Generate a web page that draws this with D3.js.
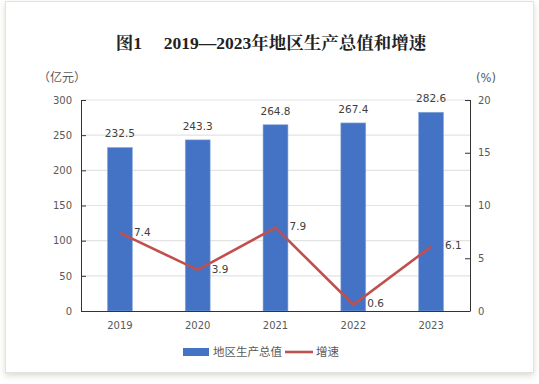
<!DOCTYPE html>
<html>
<head>
<meta charset="utf-8">
<script src="https://cdn.jsdelivr.net/npm/d3@7"></script>
<style>
  body { margin: 0; background: #fff; }
  svg { display: block; }
</style>
</head>
<body>
<div id="chart"></div>
<script>
// data
const years = ['2019', '2020', '2021', '2022', '2023'];
const gdp = [232.5, 243.3, 264.8, 267.4, 282.6];
const growth = [7.4, 3.9, 7.9, 0.6, 6.1];
const leftTicks = [0, 50, 100, 150, 200, 250, 300];
const rightTicks = [0, 5, 10, 15, 20];

const W = 539, H = 384;
const plot = {left: 81, right: 470, top: 100, bottom: 311};
const font = "'DejaVu Sans', 'Noto Sans CJK SC', sans-serif";
const cjk = "'Noto Sans CJK SC', sans-serif";
const grey = '#595959';

let svg = d3.select('#chart').append('svg')
  .attr('width', W)
  .attr('height', H);

// card + shadow
let defs = svg.append('defs');
let flt = defs.append('filter').attr('id', 'sh')
  .attr('x', '-5%').attr('y', '-5%').attr('width', '110%').attr('height', '115%');
flt.append('feDropShadow')
  .attr('dx', 0).attr('dy', 3).attr('stdDeviation', 3)
  .attr('flood-color', '#c8c4b0').attr('flood-opacity', 0.6);
svg.append('rect')
  .attr('x', 5.5).attr('y', 1.5).attr('width', 528).attr('height', 371)
  .attr('fill', '#fff').attr('stroke', '#e2e2e2')
  .attr('filter', 'url(#sh)');

// title
svg.append('text')
  .attr('x', 271).attr('y', 49)
  .attr('text-anchor', 'middle')
  .style('font-family', "'Liberation Serif', 'Noto Serif CJK SC', 'Noto Sans CJK SC', serif")
  .style('font-weight', 'bold')
  .style('font-size', '17.5px')
  .attr('fill', '#222')
  .text('图1\u3000 2019—2023年地区生产总值和增速');

// scales
let x = d3.scaleBand()
  .domain(years)
  .range([plot.left, plot.right])
  .paddingInner(0.68)
  .paddingOuter(0.34);
let yL = d3.scaleLinear().domain([0, 300]).range([plot.bottom, plot.top]);
let yR = d3.scaleLinear().domain([0, 20]).range([plot.bottom, plot.top]);
let cx = d => x(d) + x.bandwidth() / 2;

// gridlines
svg.append('g')
  .selectAll('line')
  .data(leftTicks.slice(1))
  .enter().append('line')
  .attr('x1', plot.left).attr('x2', plot.right)
  .attr('y1', d => yL(d)).attr('y2', d => yL(d))
  .attr('stroke', '#e3e3e3').attr('stroke-width', 1.2);

// bars
svg.append('g')
  .selectAll('rect')
  .data(gdp)
  .enter().append('rect')
  .attr('x', (d, i) => x(years[i]))
  .attr('y', d => yL(d))
  .attr('width', x.bandwidth())
  .attr('height', d => plot.bottom - yL(d))
  .attr('fill', '#4472c4')
  .attr('stroke', '#8eaadc').attr('stroke-width', 0.6);

svg.append('g')
  .selectAll('text')
  .data(gdp)
  .enter().append('text')
  .attr('x', (d, i) => cx(years[i]))
  .attr('y', d => yL(d) - 10)
  .attr('text-anchor', 'middle')
  .style('font-family', font).style('font-size', '10.5px')
  .attr('fill', '#404040')
  .text(d => d3.format('.1f')(d));

// axes
let axisL = svg.append('g')
  .attr('transform', `translate(${plot.left},0)`)
  .call(d3.axisRight(yL).tickValues(leftTicks).tickSize(5).tickFormat(d3.format('d')));
axisL.selectAll('text')
  .attr('x', -9).attr('text-anchor', 'end');
let axisR = svg.append('g')
  .attr('transform', `translate(${plot.right},0)`)
  .call(d3.axisLeft(yR).tickValues(rightTicks).tickSize(5).tickFormat(d3.format('d')));
axisR.selectAll('text')
  .attr('x', 8).attr('text-anchor', 'start');
[axisL, axisR].forEach(a => {
  a.select('.domain').remove();
  a.selectAll('line').attr('stroke', '#333');
  a.selectAll('text')
    .style('font-family', font).style('font-size', '10px')
    .attr('fill', grey);
});
svg.append('line')
  .attr('x1', plot.left + 0.5).attr('x2', plot.left + 0.5)
  .attr('y1', plot.top).attr('y2', plot.bottom)
  .attr('stroke', '#333');
svg.append('line')
  .attr('x1', plot.right + 0.5).attr('x2', plot.right + 0.5)
  .attr('y1', plot.top).attr('y2', plot.bottom)
  .attr('stroke', '#333');

let axisX = svg.append('g')
  .attr('transform', `translate(0,${plot.bottom})`)
  .call(d3.axisBottom(x).tickSize(0).tickPadding(11));
axisX.select('.domain').attr('stroke', '#333').attr('d', `M${plot.left},0.5H${plot.right + 0.5}`);
axisX.selectAll('text')
  .style('font-family', font).style('font-size', '10px')
  .attr('fill', grey);

// growth line
let line = d3.line()
  .x((d, i) => cx(years[i]))
  .y(d => yR(d));
svg.append('path')
  .datum(growth)
  .attr('d', line)
  .attr('fill', 'none')
  .attr('stroke', '#c0504d')
  .attr('stroke-width', 2.6)
  .attr('stroke-linejoin', 'miter');

svg.append('g')
  .selectAll('text')
  .data(growth)
  .enter().append('text')
  .attr('x', (d, i) => cx(years[i]) + 14)
  .attr('y', d => yR(d) - 1)
  .attr('dy', '0.35em')
  .style('font-family', font).style('font-size', '10.5px')
  .attr('fill', '#404040')
  .text(d => d3.format('.1f')(d));

// unit labels
svg.append('text')
  .attr('x', 38).attr('y', 82)
  .style('font-family', cjk).style('font-size', '12px')
  .attr('fill', grey)
  .text('（亿元）');
svg.append('text')
  .attr('x', 476).attr('y', 82)
  .style('font-family', font).style('font-size', '11.5px')
  .attr('fill', grey)
  .text('(%)');

// legend
let lg = svg.append('g').attr('transform', 'translate(183,352)');
lg.append('rect')
  .attr('x', 0).attr('y', -4).attr('width', 26).attr('height', 8)
  .attr('fill', '#4472c4');
lg.append('text')
  .attr('x', 30).attr('y', 0).attr('dy', '0.35em')
  .style('font-family', cjk).style('font-size', '11.5px')
  .attr('fill', grey)
  .text('地区生产总值');
lg.append('line')
  .attr('x1', 102).attr('x2', 130).attr('y1', 0).attr('y2', 0)
  .attr('stroke', '#c0504d').attr('stroke-width', 2.6);
lg.append('text')
  .attr('x', 133).attr('y', 0).attr('dy', '0.35em')
  .style('font-family', cjk).style('font-size', '11.5px')
  .attr('fill', grey)
  .text('增速');
</script>
</body>
</html>
